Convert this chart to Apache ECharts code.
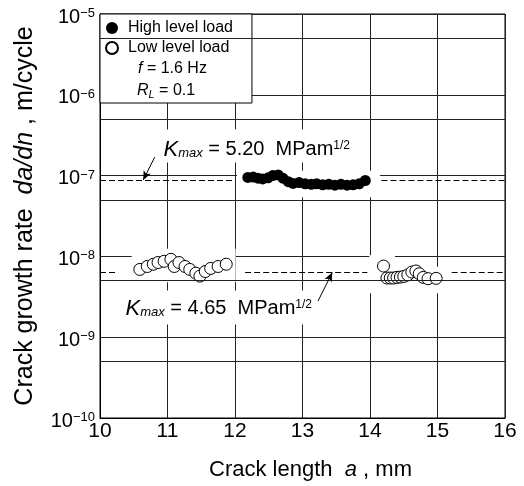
<!DOCTYPE html>
<html>
<head>
<meta charset="utf-8">
<title>Crack growth rate vs crack length</title>
<script src="https://cdn.jsdelivr.net/npm/echarts@6/dist/echarts.min.js"></script>
<style>
  html, body { margin: 0; padding: 0; background: #fff; }
  #chart { width: 524px; height: 486px; }
</style>
</head>
<body>
<div id="chart"></div>
<script>
// Crack length a (mm) and growth rate da/dn (m/cycle), high level load block
const highLoadLength = [12.19, 12.27, 12.34, 12.41, 12.49, 12.56, 12.64, 12.71, 12.79, 12.86, 12.95,
  13.04, 13.13, 13.21, 13.30, 13.39, 13.48, 13.57, 13.66, 13.75, 13.84, 13.93];
const highLoadRate = [9.5e-8, 9.6e-8, 9.3e-8, 9.1e-8, 9.4e-8, 1.0e-7, 1.02e-7, 9.3e-8, 8.4e-8, 8.0e-8, 8.2e-8,
  7.9e-8, 7.8e-8, 7.9e-8, 7.7e-8, 7.8e-8, 7.6e-8, 7.8e-8, 7.6e-8, 7.7e-8, 7.9e-8, 8.7e-8];

// Low level load blocks (before and after the high level block)
const lowLoadLength = [10.59, 10.70, 10.79, 10.86, 10.95, 11.05, 11.10, 11.17, 11.26, 11.33, 11.42, 11.48,
  11.56, 11.64, 11.75, 11.87,
  14.20, 14.25, 14.30, 14.35, 14.40, 14.45, 14.50, 14.56, 14.62, 14.68, 14.73, 14.79, 14.86, 14.98];
const lowLoadRate = [6.9e-9, 7.5e-9, 8.0e-9, 8.4e-9, 8.7e-9, 9.2e-9, 7.5e-9, 8.4e-9, 7.5e-9, 6.9e-9, 6.2e-9, 5.7e-9,
  6.5e-9, 7.1e-9, 7.5e-9, 8.0e-9,
  7.6e-9, 5.4e-9, 5.4e-9, 5.4e-9, 5.5e-9, 5.55e-9, 5.65e-9, 5.9e-9, 6.4e-9, 6.6e-9, 6.1e-9, 5.5e-9, 5.3e-9, 5.35e-9];

// Predicted rates for constant Kmax
const kmaxLabels = ['5.20', '4.65'];
const kmaxRates = [8.8e-8, 6.3e-9];

// Half-decade reference lines on the rate axis
const halfDecadeRates = [5e-10, 5e-9, 5e-8, 5e-7, 5e-6];

const FONT = '"Liberation Sans", Arial, Helvetica, sans-serif';
const INK = '#000';
const GRID_INK = '#222';

const zip = (xs, ys) => xs.map((x, i) => [x, ys[i]]);

// Extents (in data units) of the dashed Kmax segments, interrupted around the data
const kmaxSegments = [
  [[10, 11.98], [14.17, 16]],
  [[10, 10.25], [12.15, 13.96], [15.21, 16]]
];

// White panels behind the data clusters that interrupt the grid
const clearPanels = [
  [[12.03, 5.4e-8], [14.15, 1.15e-7]],
  [[10.47, 4.8e-9], [12.01, 1.24e-8]],
  [[13.99, 3.5e-9], [14.37, 1.03e-8]],
  [[14.37, 3.5e-9], [15.21, 7.45e-9]]
];

// Annotation anchors: label box left/middle and leader arrows
const kmaxLabelAnchors = [[10.874, 2.33e-7], [10.311, 2.33e-9]];
const kmaxArrows = [
  [[10.81, 1.69e-7], [10.64, 8.8e-8]],
  [[13.23, 2.8e-9], [13.44, 6.3e-9]]
];

const chart = echarts.init(document.getElementById('chart'), null, { renderer: 'canvas' });

const kLabelRich = {
  k: { fontFamily: FONT, fontSize: 22, fontStyle: 'italic', color: INK, lineHeight: 20 },
  m: { fontFamily: FONT, fontSize: 13, fontStyle: 'italic', color: INK, lineHeight: 14, verticalAlign: 'bottom' },
  t: { fontFamily: FONT, fontSize: 20, color: INK, lineHeight: 20 },
  s: { fontFamily: FONT, fontSize: 12, color: INK, lineHeight: 12, verticalAlign: 'top' }
};

const option = {
  animation: false,
  backgroundColor: '#fff',
  grid: {
    left: 100, right: 19, top: 14, bottom: 66,
    show: true, borderColor: INK, borderWidth: 1, backgroundColor: 'transparent'
  },
  legend: {
    data: [
      { name: 'High level load', icon: 'circle' },
      { name: 'Low level load', icon: 'circle' }
    ],
    orient: 'vertical',
    left: 100, top: 14,
    padding: [5, 19, 46, 5],
    itemWidth: 22, itemHeight: 12, itemGap: 2,
    backgroundColor: '#fff', borderColor: INK, borderWidth: 1,
    textStyle: { fontFamily: FONT, fontSize: 16, color: INK, lineHeight: 18 },
    selectedMode: false,
    z: 5
  },
  graphic: [
    {
      type: 'text', left: 138, top: 61, z: 100,
      style: {
        text: '{i|f}{n| = 1.6 Hz}',
        rich: {
          i: { fontFamily: FONT, fontSize: 16, fontStyle: 'italic', fill: INK, lineHeight: 18 },
          n: { fontFamily: FONT, fontSize: 16, fill: INK, lineHeight: 18 }
        }
      }
    },
    {
      type: 'text', left: 137, top: 83, z: 100,
      style: {
        text: '{i|R}{l|L}{n| = 0.1}',
        rich: {
          i: { fontFamily: FONT, fontSize: 16, fontStyle: 'italic', fill: INK, lineHeight: 18 },
          l: { fontFamily: FONT, fontSize: 11, fontStyle: 'italic', fill: INK, lineHeight: 13, verticalAlign: 'bottom' },
          n: { fontFamily: FONT, fontSize: 16, fill: INK, lineHeight: 18 }
        }
      }
    }
  ],
  xAxis: {
    type: 'value', min: 10, max: 16, interval: 1,
    axisLine: { show: true, lineStyle: { color: INK, width: 1 } },
    axisTick: { show: false },
    splitLine: { show: true, lineStyle: { color: GRID_INK, width: 1 } },
    axisLabel: { fontFamily: FONT, fontSize: 21, color: INK, margin: 3 },
    name: '{n|Crack length  }{i|a}{n| , mm}',
    nameLocation: 'middle', nameGap: 41,
    nameTextStyle: {
      padding: [0, 0, 0, 16],
      rich: {
        n: { fontFamily: FONT, fontSize: 22, color: INK },
        i: { fontFamily: FONT, fontSize: 22, fontStyle: 'italic', color: INK }
      }
    }
  },
  yAxis: {
    type: 'log', logBase: 10, min: 1e-10, max: 1e-5,
    axisLine: { show: true, lineStyle: { color: INK, width: 1 } },
    axisTick: { show: false },
    splitLine: { show: true, lineStyle: { color: GRID_INK, width: 1 } },
    axisLabel: {
      margin: 5,
      padding: [6, 0, 0, 0],
      formatter: function (v) {
        const p = Math.round(Math.log10(v));
        return '{b|10}{s|\u2212' + Math.abs(p) + '}';
      },
      rich: {
        b: { fontFamily: FONT, fontSize: 20, color: INK, lineHeight: 20, verticalAlign: 'bottom' },
        s: { fontFamily: FONT, fontSize: 13, color: INK, lineHeight: 10, verticalAlign: 'top' }
      }
    },
    name: '{n|Crack growth rate  }{i|da/dn}{n| , m/cycle}',
    nameLocation: 'middle', nameGap: 62, nameRotate: 90,
    nameTextStyle: {
      rich: {
        n: { fontFamily: FONT, fontSize: 25, color: INK },
        i: { fontFamily: FONT, fontSize: 25, fontStyle: 'italic', color: INK }
      }
    }
  },
  series: [
    {
      // half-decade grid lines
      type: 'scatter', name: 'half-decade', data: [], z: 1, silent: true,
      markLine: {
        silent: true, symbol: 'none', label: { show: false },
        lineStyle: { color: GRID_INK, width: 1, type: 'solid' },
        data: halfDecadeRates.map(v => [{ coord: [10, v] }, { coord: [16, v] }])
      }
    },
    {
      // white panels that interrupt the grid around the data
      type: 'scatter', name: 'panels', data: [], z: 2, silent: true,
      markArea: {
        silent: true, itemStyle: { color: '#fff' }, label: { show: false },
        data: clearPanels.map(r => [{ coord: r[0] }, { coord: r[1] }])
      }
    },
    {
      name: 'High level load', type: 'scatter',
      data: zip(highLoadLength, highLoadRate),
      symbol: 'circle', symbolSize: 11,
      itemStyle: { color: INK, opacity: 1 },
      z: 3
    },
    {
      name: 'Low level load', type: 'scatter',
      data: zip(lowLoadLength, lowLoadRate),
      symbol: 'circle', symbolSize: 12,
      itemStyle: { color: '#fff', borderColor: INK, borderWidth: 1, opacity: 1 },
      z: 3
    },
    {
      // dashed Kmax prediction lines
      type: 'scatter', name: 'kmax-lines', data: [], z: 4, silent: true,
      markLine: {
        silent: true, symbol: 'none', label: { show: false },
        lineStyle: { color: INK, width: 1, type: [6, 3] },
        data: kmaxSegments.flatMap((segs, i) =>
          segs.map(s => [{ coord: [s[0], kmaxRates[i]] }, { coord: [s[1], kmaxRates[i]] }]))
      }
    },
    {
      // leader arrows and Kmax labels
      type: 'scatter', name: 'kmax-notes', data: [], z: 4, silent: true,
      markLine: {
        silent: true, symbol: ['none', 'arrow'], symbolSize: [6, 9], label: { show: false },
        lineStyle: { color: INK, width: 1, type: 'solid' },
        data: kmaxArrows.map(a => [{ coord: a[0] }, { coord: a[1] }])
      },
      markPoint: {
        silent: true, symbol: 'circle', symbolSize: 1,
        itemStyle: { color: 'rgba(0,0,0,0)' },
        label: {
          show: true, position: 'right', distance: 0,
          backgroundColor: '#fff',
          rich: kLabelRich
        },
        data: kmaxLabelAnchors.map((c, i) => ({
          coord: c,
          label: {
            padding: i === 0 ? [10, 4, 3, 4] : [8, 4, 6, 4],
            formatter: '{k|K}{m|max}{t| = ' + kmaxLabels[i] + '  MPam}{s|1/2}'
          }
        }))
      }
    }
  ]
};

chart.setOption(option);
</script>
</body>
</html>
